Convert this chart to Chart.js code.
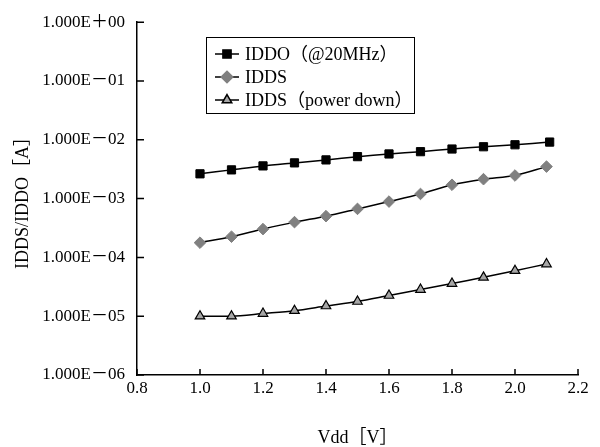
<!DOCTYPE html>
<html>
<head>
<meta charset="utf-8">
<script src="https://cdn.jsdelivr.net/npm/chart.js@4.4.1/dist/chart.umd.min.js"></script>
<style>
  body { margin: 0; background: #fff; }
  #wrap { width: 600px; height: 447px; }
</style>
</head>
<body>
<div id="wrap"><canvas id="chart" width="600" height="447"></canvas></div>
<script>
// Data
const vdd = [1.0, 1.1, 1.2, 1.3, 1.4, 1.5, 1.6, 1.7, 1.8, 1.9, 2.0, 2.1];
const vddIddo = [1.0, 1.1, 1.2, 1.3, 1.4, 1.5, 1.6, 1.7, 1.8, 1.9, 2.0, 2.11];
const iddo = [2.64e-3, 3.08e-3, 3.6e-3, 4.05e-3, 4.55e-3, 5.17e-3, 5.74e-3, 6.28e-3, 6.97e-3, 7.62e-3, 8.24e-3, 9.15e-3];
const idds = [1.78e-4, 2.25e-4, 3.03e-4, 3.98e-4, 5.03e-4, 6.68e-4, 8.9e-4, 1.2e-3, 1.72e-3, 2.14e-3, 2.47e-3, 3.5e-3];
const iddsPowerDown = [1.0e-5, 1.0e-5, 1.11e-5, 1.24e-5, 1.49e-5, 1.78e-5, 2.25e-5, 2.84e-5, 3.59e-5, 4.58e-5, 5.94e-5, 7.71e-5];
const seriesNames = ["IDDO（@20MHz）", "IDDS", "IDDS（power down）"];
const yTicks = [1e-6, 1e-5, 1e-4, 1e-3, 1e-2, 1e-1, 1];
const xTicks = [0.8, 1.0, 1.2, 1.4, 1.6, 1.8, 2.0, 2.2];

const FONT = "'Liberation Serif', 'Noto Sans CJK JP', serif";

function pts(xs, ys) {
  return xs.map((x, i) => ({ x: x, y: ys[i] }));
}

function sciLabel(v) {
  const e = Math.round(Math.log10(v));
  const sign = e < 0 ? "－" : "＋";
  return "1.000E" + sign + String(Math.abs(e)).padStart(2, "0");
}

// inward tick marks
const innerTicks = {
  id: "innerTicks",
  afterDraw(chart) {
    const ctx = chart.ctx;
    const xs = chart.scales.x, ys = chart.scales.y;
    const area = chart.chartArea;
    ctx.save();
    ctx.strokeStyle = "#000";
    ctx.lineWidth = 1.5;
    ctx.beginPath();
    xTicks.forEach(v => {
      const px = xs.getPixelForValue(v);
      ctx.moveTo(px, area.bottom);
      ctx.lineTo(px, area.bottom - 6);
    });
    yTicks.forEach(v => {
      const py = ys.getPixelForValue(v);
      ctx.moveTo(area.left, py);
      ctx.lineTo(area.left + 7, py);
    });
    ctx.stroke();
    ctx.restore();
  }
};

// boxed legend inside the plot
const boxLegend = {
  id: "boxLegend",
  afterDraw(chart) {
    const ctx = chart.ctx;
    const x0 = 206, y0 = 37, w = 208, h = 76;
    ctx.save();
    ctx.fillStyle = "#fff";
    ctx.fillRect(x0, y0, w, h);
    ctx.strokeStyle = "#000";
    ctx.lineWidth = 1;
    ctx.strokeRect(x0 + 0.5, y0 + 0.5, w, h);
    chart.data.datasets.forEach((ds, i) => {
      const cy = y0 + 17 + i * 23;
      ctx.strokeStyle = "#000";
      ctx.lineWidth = 1.5;
      ctx.beginPath();
      ctx.moveTo(215, cy);
      ctx.lineTo(239, cy);
      ctx.stroke();
      ctx.fillStyle = ds.pointBackgroundColor;
      ctx.strokeStyle = ds.pointBorderColor;
      Chart.helpers.drawPoint(ctx, {
        pointStyle: ds.pointStyle,
        radius: ds.pointRadius,
        rotation: 0,
        borderWidth: ds.pointBorderWidth
      }, 227, cy);
      ctx.fillStyle = "#000";
      ctx.font = "18px " + FONT;
      ctx.textBaseline = "middle";
      ctx.fillText(ds.label, 245, cy + 1);
    });
    ctx.restore();
  }
};

new Chart(document.getElementById("chart"), {
  type: "line",
  data: {
    datasets: [
      {
        label: seriesNames[0],
        data: pts(vddIddo, iddo),
        borderColor: "#000",
        borderWidth: 1.5,
        pointStyle: "rect",
        pointRadius: 5.8,
        pointBackgroundColor: "#000",
        pointBorderColor: "#000",
        pointBorderWidth: 1,
        tension: 0.3
      },
      {
        label: seriesNames[1],
        data: pts(vdd, idds),
        borderColor: "#000",
        borderWidth: 1.5,
        pointStyle: "rectRot",
        pointRadius: 5.8,
        pointBackgroundColor: "#808080",
        pointBorderColor: "#808080",
        pointBorderWidth: 1,
        tension: 0.3
      },
      {
        label: seriesNames[2],
        data: pts(vdd, iddsPowerDown),
        borderColor: "#000",
        borderWidth: 1.5,
        pointStyle: "triangle",
        pointRadius: 5.5,
        pointBackgroundColor: "#a6a6a6",
        pointBorderColor: "#000",
        pointBorderWidth: 1.2,
        tension: 0.3
      }
    ]
  },
  options: {
    responsive: false,
    animation: false,
    layout: { padding: { top: 19, right: 22, left: 0, bottom: 0 } },
    plugins: {
      legend: { display: false },
      tooltip: { enabled: false }
    },
    scales: {
      x: {
        type: "linear",
        min: 0.8,
        max: 2.2,
        afterBuildTicks: s => { s.ticks = xTicks.map(v => ({ value: v })); },
        afterFit: s => { s.height = 72; },
        ticks: {
          callback: v => v.toFixed(1),
          color: "#000",
          font: { family: FONT, size: 17 },
          padding: 3,
          maxRotation: 0
        },
        grid: { drawOnChartArea: false, drawTicks: false },
        border: { color: "#000", width: 1.5 },
        title: {
          display: true,
          text: "Vdd［V］",
          color: "#000",
          font: { family: FONT, size: 18 },
          padding: { top: 0, bottom: -2 }
        }
      },
      y: {
        type: "logarithmic",
        min: 1e-6,
        max: 1,
        afterBuildTicks: s => { s.ticks = yTicks.map(v => ({ value: v })); },
        afterFit: s => { s.width = 137; },
        ticks: {
          callback: v => sciLabel(v),
          color: "#000",
          font: { family: FONT, size: 17 },
          padding: 12
        },
        grid: { drawOnChartArea: false, drawTicks: false },
        border: { color: "#000", width: 1.5 },
        title: {
          display: true,
          text: "IDDS/IDDO［A］",
          color: "#000",
          font: { family: FONT, size: 18 },
          padding: { top: 12, bottom: 0 }
        }
      }
    }
  },
  plugins: [innerTicks, boxLegend]
});
</script>
</body>
</html>
